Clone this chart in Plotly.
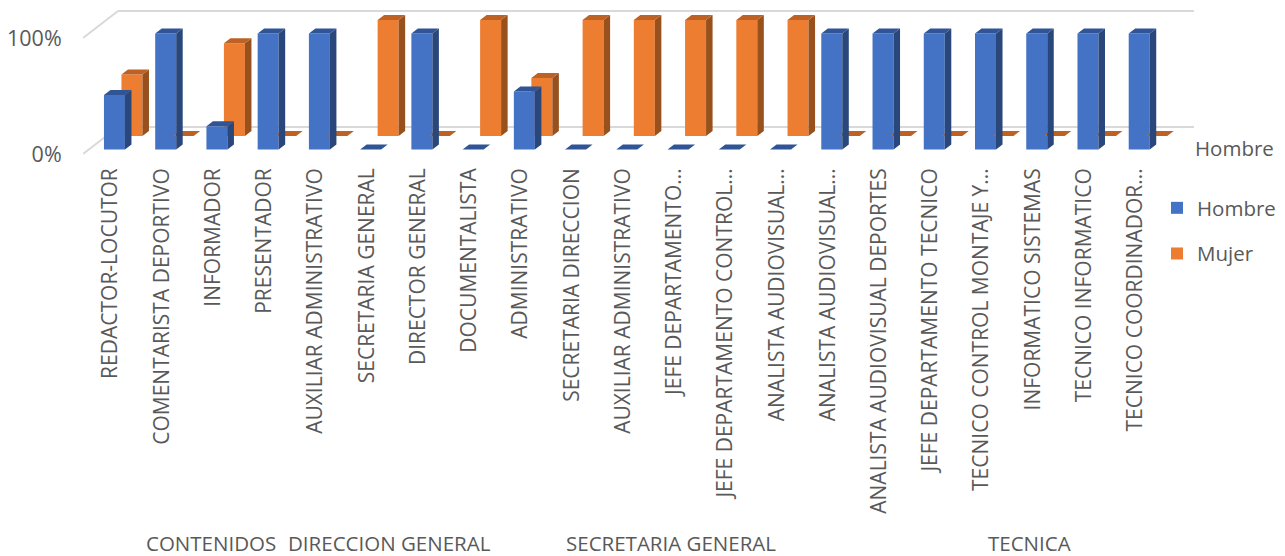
import plotly.graph_objects as go

categories = ["REDACTOR-LOCUTOR", "COMENTARISTA DEPORTIVO", "INFORMADOR", "PRESENTADOR",
              "AUXILIAR ADMINISTRATIVO", "SECRETARIA GENERAL", "DIRECTOR GENERAL", "DOCUMENTALISTA",
              "ADMINISTRATIVO", "SECRETARIA DIRECCION", "AUXILIAR ADMINISTRATIVO", "JEFE DEPARTAMENTO...",
              "JEFE DEPARTAMENTO CONTROL...", "ANALISTA AUDIOVISUAL...", "ANALISTA AUDIOVISUAL...",
              "ANALISTA AUDIOVISUAL DEPORTES", "JEFE DEPARTAMENTO TECNICO", "TECNICO CONTROL MONTAJE Y...",
              "INFORMATICO SISTEMAS", "TECNICO INFORMATICO", "TECNICO COORDINADOR..."]
hombre = [0.47, 1, 0.2, 1, 1, 0, 1, 0, 0.5, 0, 0, 0, 0, 0, 1, 1, 1, 1, 1, 1, 1]
mujer = [0.53, 0, 0.8, 0, 0, 1, 0, 1, 0.5, 1, 1, 1, 1, 1, 0, 0, 0, 0, 0, 0, 0]
group_names = ["CONTENIDOS", "DIRECCION GENERAL", "SECRETARIA GENERAL", "TECNICA"]
group_pos = [2.0, 5.48, 10.97, 17.98]

# 3D projection: depth t (0 front .. 1 back) shifts x and y
DX, DY = 0.683, 0.2328
BW, BD = 0.41, 0.186
GREY = "#595959"
FONT = "Open Sans"
X0, X1, YT, YB = 83, 1194, 2, 160
UY = 116.0


def P(c, v, t):
    return c + DX * t, v + DY * t


def faces(vals, t0):
    side_x, side_y, top_x, top_y = [], [], [], []
    for i, v in enumerate(vals):
        xl = i + (-BW / 2)
        xr = i + BW / 2
        a = P(xr, 0, t0); b = P(xr, 0, t0 + BD); c = P(xr, v, t0 + BD); d = P(xr, v, t0)
        side_x += [a[0], b[0], c[0], d[0], a[0], None]
        side_y += [a[1], b[1], c[1], d[1], a[1], None]
        a = P(xl, v, t0); b = P(xr, v, t0); c = P(xr, v, t0 + BD); d = P(xl, v, t0 + BD)
        top_x += [a[0], b[0], c[0], d[0], a[0], None]
        top_y += [a[1], b[1], c[1], d[1], a[1], None]
    return side_x, side_y, top_x, top_y


def add_series(fig, name, vals, t0, col, col_side, col_top, rank):
    xs = [i + DX * t0 for i in range(len(vals))]
    fig.add_trace(go.Bar(x=xs, y=vals, base=[DY * t0] * len(vals), width=BW, name=name,
                         marker=dict(color=col, line=dict(width=0)), legendrank=rank,
                         legendgroup=name))
    sx, sy, tx, ty = faces(vals, t0)
    for px, py, c in ((sx, sy, col_side), (tx, ty, col_top)):
        fig.add_trace(go.Scatter(x=px, y=py, mode="lines", fill="toself", fillcolor=c,
                                 line=dict(width=0, color=c), showlegend=False, hoverinfo="skip",
                                 legendgroup=name))


fig = go.Figure()
add_series(fig, "Mujer", mujer, 2 / 3, "#ED7D31", "#98501C", "#BD6224", 2)
add_series(fig, "Hombre", hombre, 1 / 6, "#4472C4", "#29477B", "#2F5597", 1)

shapes = []
for v in (0, 1):
    p0, p1, p2 = P(-0.5, v, 0), P(-0.5, v, 1), P(20.5, v, 1)
    line = dict(color="#D9D9D9", width=2)
    shapes.append(dict(type="line", x0=p0[0], y0=p0[1], x1=p1[0], y1=p1[1], layer="below", line=line))
    shapes.append(dict(type="line", x0=p1[0], y0=p1[1], x1=p2[0], y1=p2[1], layer="below", line=line))

annotations = [dict(x=g, y=0, xref="x", yref="paper", yshift=-399, text=n, showarrow=False,
                    font=dict(family=FONT, size=20.5, color=GREY))
               for n, g in zip(group_names, group_pos)]
annotations.append(dict(x=1.0, y=0, xref="paper", yref="y", text="Hombre", showarrow=False,
                        xanchor="left", xshift=-1, yshift=6, font=dict(family=FONT, size=20.5, color=GREY)))

fig.update_layout(
    width=1285, height=556, autosize=False, paper_bgcolor="white", plot_bgcolor="rgba(0,0,0,0)",
    margin=dict(l=X0, r=1285 - X1, t=YT, b=556 - YB, pad=0, autoexpand=False),
    barmode="overlay", shapes=shapes, annotations=annotations,
    font=dict(family=FONT, color=GREY),
    legend=dict(x=1157 / 1285, xref="container", xanchor="left", y=1 - 188 / 556, yref="container", yanchor="top",
                font=dict(family=FONT, size=20.5, color=GREY), tracegroupgap=16, bgcolor="rgba(0,0,0,0)",
                traceorder="grouped", itemwidth=30),
    xaxis=dict(range=[-0.5, 20.5 + DX], tickvals=list(range(len(categories))), ticktext=categories,
               tickangle=-90, showgrid=False, zeroline=False, showline=False, ticks="",
               ticklabelstandoff=3, ticklabelshift=2,
               tickfont=dict(family=FONT, size=21, color=GREY), automargin=False),
    yaxis=dict(range=[(154 - YB) / UY, (154 - YT) / UY], tickvals=[0, 1], ticktext=["0%", "100%"],
               showgrid=False, zeroline=False, showline=False, ticks="outside", ticklen=16,
               tickcolor="rgba(0,0,0,0)", tickfont=dict(family=FONT, size=21.5, color=GREY), automargin=False),
)
fig.write_html("out.html", post_script="document.body.style.margin='0';", config={"displayModeBar": False})
